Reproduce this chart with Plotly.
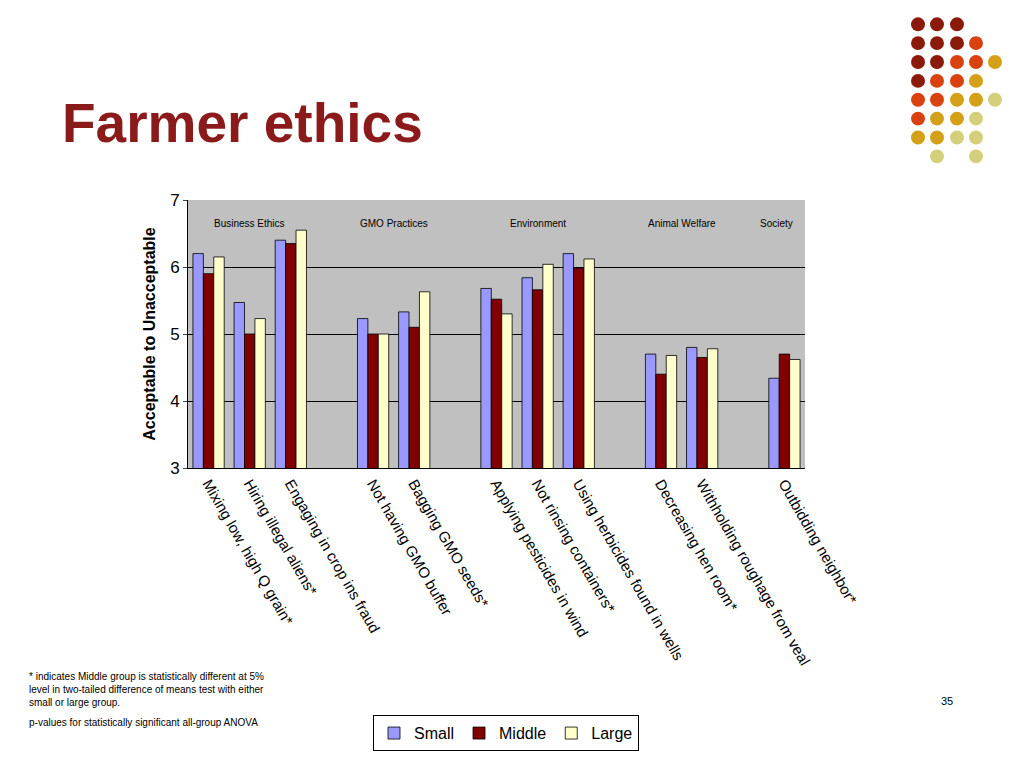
import plotly.graph_objects as go

categories = ["Mixing low, high Q grain*", "Hiring illegal aliens*", "Engaging in crop ins fraud", " ",
              "Not having GMO buffer", "Bagging GMO seeds*", "  ",
              "Applying pesticides in wind", "Not rinsing containers*", "Using herbicides found in wells", "   ",
              "Decreasing hen room*", "Withholding roughage from veal", "    ",
              "Outbidding neighbor*"]
small = [6.2, 5.47, 6.4, None, 5.23, 5.33, None, 5.68, 5.84, 6.2, None, 4.7, 4.8, None, 4.34]
middle = [5.9, 5.0, 6.35, None, 5.0, 5.1, None, 5.52, 5.66, 5.98, None, 4.4, 4.65, None, 4.7]
large = [6.15, 5.23, 6.55, None, 5.0, 5.63, None, 5.3, 6.04, 6.12, None, 4.68, 4.78, None, 4.62]
group_labels = [("Business Ethics", 1), ("GMO Practices", 4.5), ("Environment", 8),
                ("Animal Welfare", 11.5), ("Society", 13.8)]
pvalues = [("p=0.040", 1), ("p=0.066", 5), ("p=0.055", 7), ("p=0.087", 8)]


def px(x):
    return (x - 188) / 617


def py_(y):
    return (470 - y) / 270


fig = go.Figure()
for name, vals, col in [("Small", small, "#9999FF"), ("Middle", middle, "#800000"),
                        ("Large", large, "#FFFFCC")]:
    fig.add_trace(go.Bar(x=categories, y=vals, name=name,
                         marker=dict(color=col, line=dict(color="black", width=0.8))))

for txt, xi in group_labels:
    fig.add_annotation(x=xi, y=6.65, xref="x", yref="y", text=txt, showarrow=False,
                       font=dict(size=10, color="black"))
for txt, xi in pvalues:
    fig.add_annotation(x=xi, y=2.86, xref="x", yref="y", text=txt, showarrow=False,
                       font=dict(size=8, color="black"))

fig.add_annotation(x=px(60), y=py_(122), xref="paper", yref="paper", text="<b>Farmer ethics</b>",
                   showarrow=False, xanchor="left", yanchor="middle",
                   font=dict(size=55, color="#8B1A1A", family="Liberation Sans"))

# decorative dots
dark, orng, gold, khak = "#8B1A0A", "#D9410E", "#D4A017", "#D4CF7A"
dots = [
    [dark, dark, dark, None, None],
    [dark, dark, dark, orng, None],
    [dark, dark, orng, orng, gold],
    [dark, orng, orng, gold, None],
    [orng, orng, gold, gold, khak],
    [orng, gold, gold, khak, None],
    [gold, gold, khak, khak, None],
    [None, khak, None, khak, None],
]
xs = [918, 937, 957, 976, 995]
for r, row in enumerate(dots):
    for c, col in enumerate(row):
        if col:
            cx, cy = xs[c], 23 + 19 * r
            fig.add_shape(type="circle", xref="paper", yref="paper",
                          x0=px(cx - 7), x1=px(cx + 7), y0=py_(cy + 7), y1=py_(cy - 7),
                          fillcolor=col, line=dict(width=0))

foot = ("* indicates Middle group is statistically different at 5%<br>"
        "level in two-tailed difference of means test with either<br>"
        "small or large group.")
fig.add_annotation(x=px(27), y=py_(672), xref="paper", yref="paper",
                   text=foot, showarrow=False, align="left", xanchor="left", yanchor="top",
                   font=dict(size=10, color="black"))
fig.add_annotation(x=px(27), y=py_(726), xref="paper", yref="paper",
                   text="p-values for statistically significant all-group ANOVA", showarrow=False,
                   xanchor="left", yanchor="middle", font=dict(size=10, color="black"))
fig.add_annotation(x=px(955), y=py_(713), xref="paper", yref="paper",
                   text="35", showarrow=False, font=dict(size=11, color="black"))

fig.update_layout(
    width=1010, height=755,
    margin=dict(l=180, r=213, t=192, b=293),
    paper_bgcolor="white", plot_bgcolor="#C0C0C0",
    font=dict(family="Liberation Sans, Arial", color="black"),
    barmode="group", bargap=0.24, bargroupgap=0,
    showlegend=True,
    legend=dict(orientation="h", x=px(373), y=py_(719),
                xanchor="left", yanchor="top", font=dict(size=16),
                bordercolor="black", borderwidth=1, bgcolor="white",
                itemwidth=30, tracegroupgap=0),
    xaxis=dict(tickangle=60, tickfont=dict(size=15), showline=True, linecolor="black",
               ticks="", range=[-0.5, 14.5]),
    yaxis=dict(range=[3, 7], dtick=1, tickfont=dict(size=17), showgrid=True,
               gridcolor="black", gridwidth=1, showline=True, linecolor="black",
               ticks="outside", ticklen=4,
               title=dict(text="<b>Acceptable to Unacceptable</b>", font=dict(size=16), standoff=10)),
)
fig.write_html("out.html")
